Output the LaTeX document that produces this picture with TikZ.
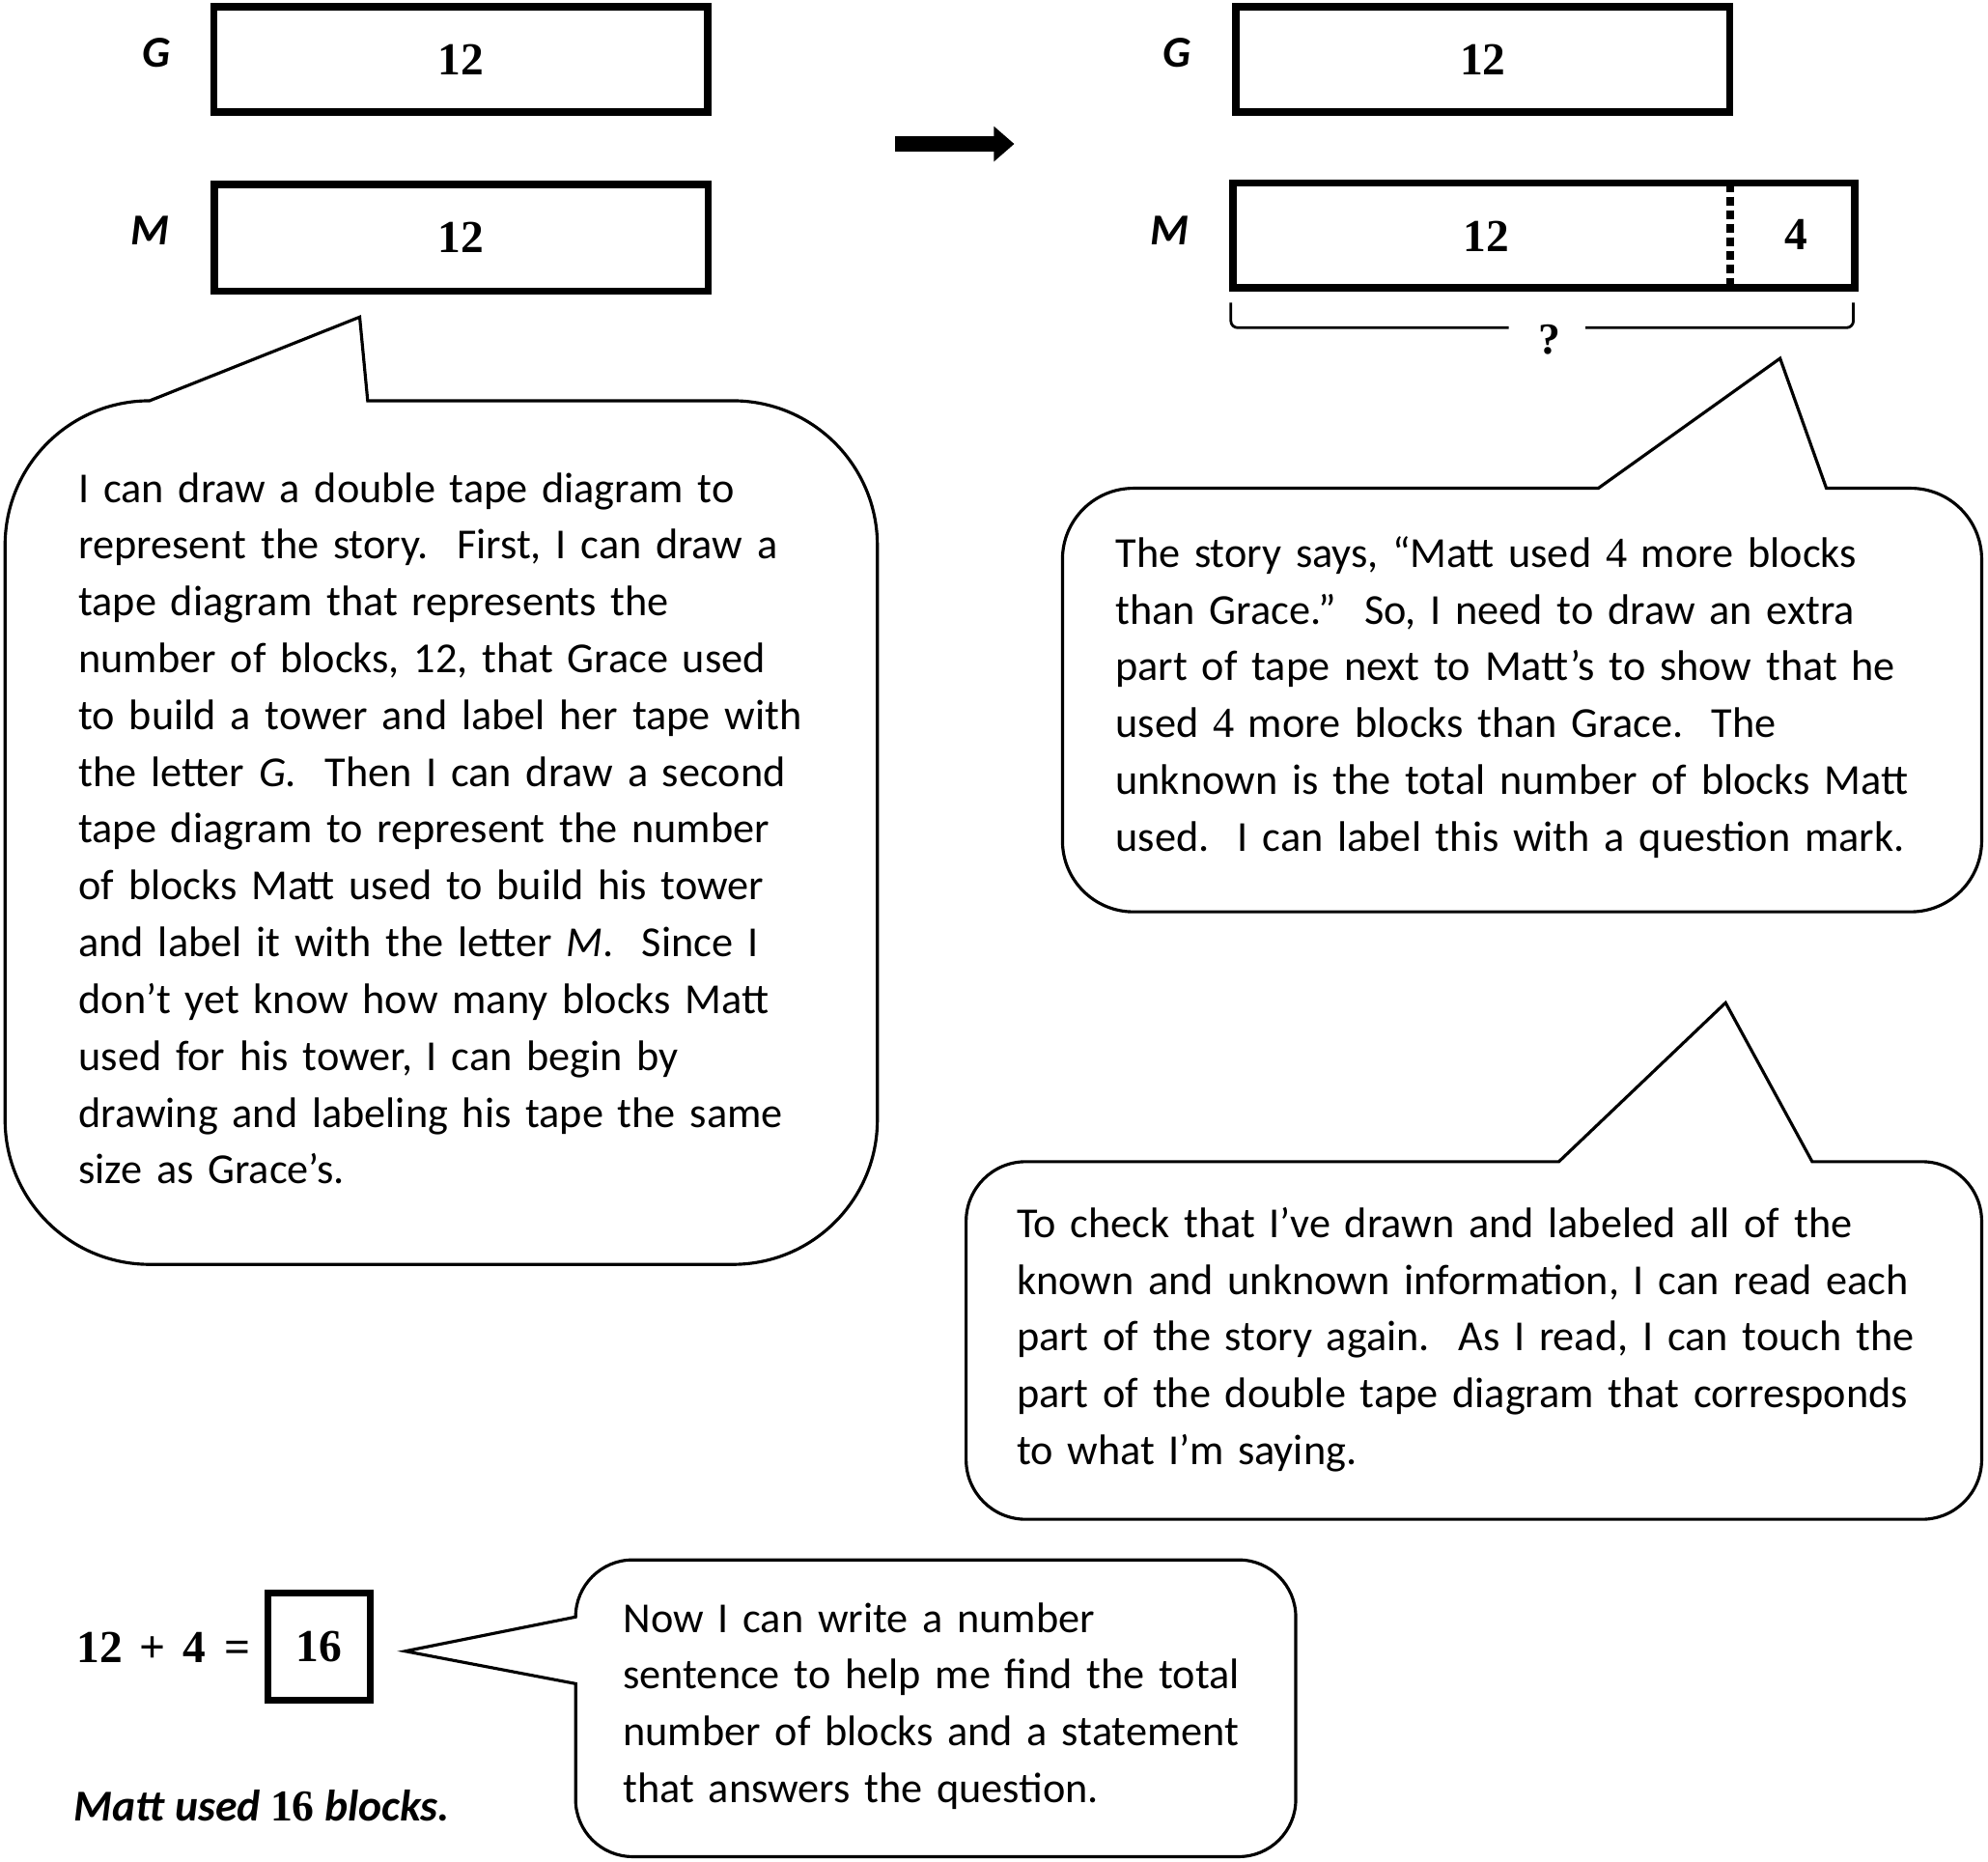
\documentclass[tikz,border=0pt]{standalone}
\usepackage{fontspec}
\newfontfamily\carlito{Carlito}
\newfontfamily\numserif{Liberation Serif}
\usetikzlibrary{arrows.meta}
\begin{document}
\begin{tikzpicture}[x=0.013131cm, y=-0.013131cm,
  tape/.style={draw, line width=2.1pt, inner sep=0pt, font=\numserif\fontsize{13.5}{16}\selectfont\bfseries},
  tapelabel/.style={anchor=base, inner sep=0pt, font=\carlito\fontsize{13}{16}\selectfont\bfseries\itshape},
  tapenum/.style={anchor=base, inner sep=0pt, font=\numserif\fontsize{13.5}{16}\selectfont\bfseries},
  divider/.style={line width=2.3pt, dash pattern=on 2.6pt off 1.4pt},
  bracket/.style={line width=0.8pt, rounded corners=2pt},
  bubble/.style={draw, line width=0.9pt, line join=miter},
  bodytext/.style={anchor=base west, inner sep=0pt, align=left, font=\carlito\fontsize{12.6}{16.74}\selectfont},
]
\path[use as bounding box, fill=white] (0,0) rectangle (1568,1468);

% ---- left tapes
\node[tapelabel] (lg1) at (123.4,53.3) {G};
\node[tapelabel] (lm1) at (118.4,193) {M};
\node[tape, minimum width=5.116cm, minimum height=1.090cm] (g1) at (363.5,46.75) {12};
\node[tape, minimum width=5.116cm, minimum height=1.107cm] (m1) at (363.7,187.5) {12};

% ---- arrow
\coordinate (arrS) at (706,113.5);
\coordinate (arrE) at (800,113.5);
\draw[line width=4.4pt, -{Triangle[length=6pt, width=10pt]}] (arrS) -- (arrE);

% ---- right tapes
\node[tapelabel] (lg2) at (928,53.3) {G};
\node[tapelabel] (lm2) at (922.6,193) {M};
\node[tape, minimum width=5.116cm, minimum height=1.090cm] (g2) at (1169.5,46.75) {12};
\node[tape, minimum width=6.445cm, minimum height=1.087cm] (m2) at (1217.7,185.7) {};
\node[tapenum] (m2a) at (1172.5,198) {12};
\node[tapenum] (m2b) at (1417,197) {4};
\coordinate (dtop) at (1364.6,144.3);
\coordinate (dbot) at (1364.6,227.1);
\draw[divider] (dtop) -- (dbot);

% ---- bracket with ?
\node[anchor=base, inner sep=0pt, font=\numserif\fontsize{13}{16}\selectfont\bfseries] (q) at (1222.5,279) {?};
\coordinate (bl1) at (970.8,238.6);
\coordinate (bl2) at (970.8,258.4);
\coordinate (bl3) at (1190,258.4);
\coordinate (br1) at (1250.5,258.4);
\coordinate (br2) at (1461.8,258.4);
\coordinate (br3) at (1461.8,238.6);
\draw[bracket] (bl1) -- (bl2) -- (bl3);
\draw[bracket] (br1) -- (br2) -- (br3);

% ---- bubble 1
\draw[bubble] (118,316) -- (283.7,250) -- (290,316) -- (578,316)
  arc[start angle=-90, end angle=0, radius=114] -- (692,883)
  arc[start angle=0, end angle=90, radius=114] -- (118,997)
  arc[start angle=90, end angle=180, radius=114] -- (4,430)
  arc[start angle=180, end angle=270, radius=114] -- cycle;
\node[bodytext, text width=8.1cm] (t1) at (61.5,396.1) {I can draw a double tape diagram to\\
represent the story.\ \ First, I can draw a\\
tape diagram that represents the\\
number of blocks, 12, that Grace used\\
to build a tower and label her tape with\\
the letter \textit{G}.\ \ Then I can draw a second\\
tape diagram to represent the number\\
of blocks Matt used to build his tower\\
and label it with the letter \textit{M}.\ \ Since I\\
don’t yet know how many blocks Matt\\
used for his tower, I can begin by\\
drawing and labeling his tape the same\\
size as Grace’s.};

% ---- bubble 2
\draw[bubble] (894,385) -- (1260.6,385) -- (1404,282.6) -- (1440.5,385) -- (1507,385)
  arc[start angle=-90, end angle=0, radius=56] -- (1563,663)
  arc[start angle=0, end angle=90, radius=56] -- (894,719)
  arc[start angle=90, end angle=180, radius=56] -- (838,441)
  arc[start angle=180, end angle=270, radius=56] -- cycle;
\node[bodytext, text width=8.9cm] (t2) at (879.4,447.3) {The story says, “Matt used {\numserif 4} more blocks\\
than Grace.”\ \ So, I need to draw an extra\\
part of tape next to Matt’s to show that he\\
used {\numserif 4} more blocks than Grace.\ \ The\\
unknown is the total number of blocks Matt\\
used.\ \ I can label this with a question mark.};

% ---- bubble 3
\draw[bubble] (809,916) -- (1229.5,916) -- (1361,790.7) -- (1429.3,916) -- (1516,916)
  arc[start angle=-90, end angle=0, radius=47] -- (1563,1151)
  arc[start angle=0, end angle=90, radius=47] -- (809,1198)
  arc[start angle=90, end angle=180, radius=47] -- (762,963)
  arc[start angle=180, end angle=270, radius=47] -- cycle;
\node[bodytext, text width=9.9cm] (t3) at (801.4,975.8) {To check that I’ve drawn and labeled all of the\\
known and unknown information, I can read each\\
part of the story again.\ \ As I read, I can touch the\\
part of the double tape diagram that corresponds\\
to what I’m saying.};

% ---- equation
\node[anchor=base west, inner sep=0pt, font=\numserif\fontsize{13.5}{16}\selectfont\bfseries] (eq) at (60,1311) {12\hspace{5pt}+\hspace{5pt}4\hspace{5.5pt}=};
\node[draw, line width=2pt, inner sep=0pt, minimum width=1.064cm, minimum height=1.116cm, font=\numserif\fontsize{13.5}{16}\selectfont\bfseries] (ans) at (251.5,1298.5) {16};
\node[anchor=base west, inner sep=0pt, font=\carlito\fontsize{13}{16}\selectfont\bfseries\itshape] (stmt) at (58,1435.5) {Matt used {\numserif\upshape 16} blocks.};

% ---- bubble 4
\draw[bubble] (499,1230) -- (977,1230)
  arc[start angle=-90, end angle=0, radius=45] -- (1022,1419)
  arc[start angle=0, end angle=90, radius=45] -- (499,1464)
  arc[start angle=90, end angle=180, radius=45] -- (454,1327.6)
  -- (319.6,1302) -- (454,1275)
  arc[start angle=180, end angle=270, radius=45] -- cycle;
\node[bodytext, text width=6.8cm] (t4) at (491,1287) {Now I can write a number\\
sentence to help me find the total\\
number of blocks and a statement\\
that answers the question.};
\end{tikzpicture}
\end{document}
